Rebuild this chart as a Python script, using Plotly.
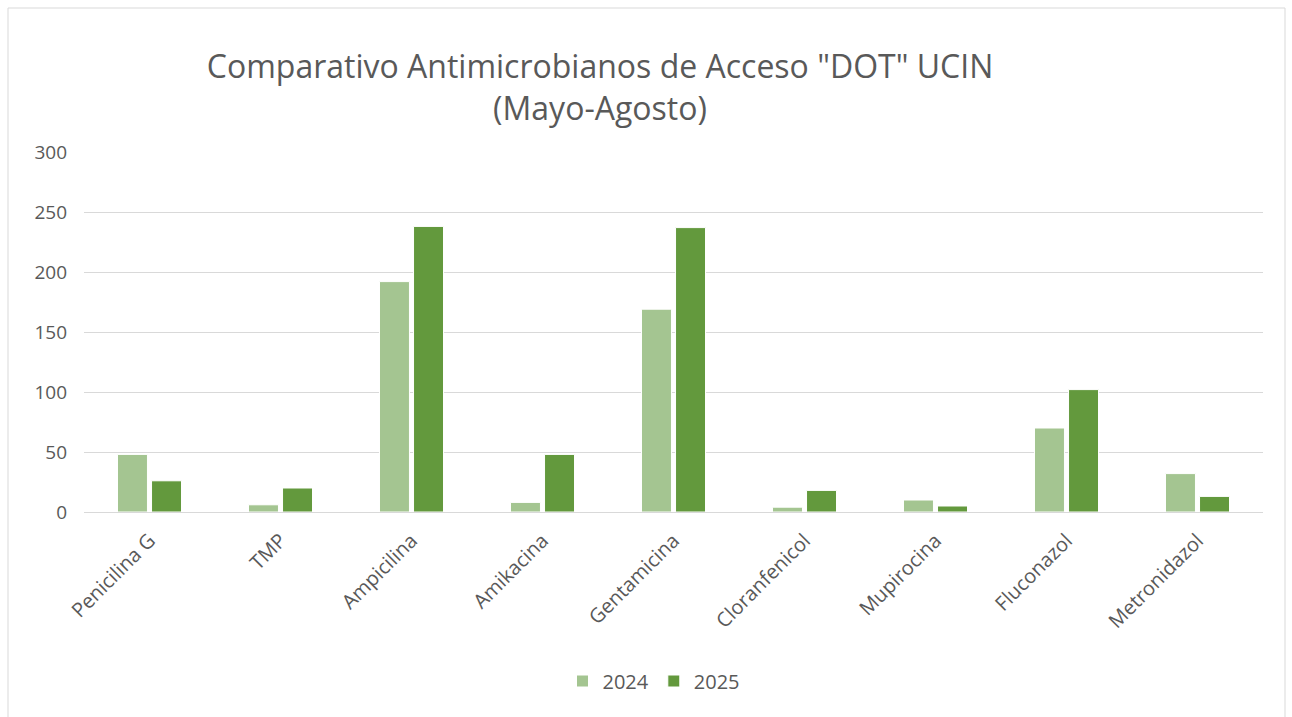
import plotly.graph_objects as go

categories = ["Penicilina G", "TMP", "Ampicilina", "Amikacina", "Gentamicina",
              "Cloranfenicol", "Mupirocina", "Fluconazol", "Metronidazol"]
values_2024 = [48, 6, 192, 8, 169, 4, 10, 70, 32]
values_2025 = [26, 20, 238, 48, 237, 18, 5, 102, 13]
y_ticks = [0, 50, 100, 150, 200, 250, 300]

W, H = 1292, 717
L, R, T, B = 84, 29, 152, 205
pw, ph = W - L - R, H - T - B

fig = go.Figure()
fig.add_trace(go.Bar(name="2024", x=categories, y=values_2024,
                     marker=dict(color="#A4C591", line=dict(color="white", width=1))))
fig.add_trace(go.Bar(name="2025", x=categories, y=values_2025,
                     marker=dict(color="#63993D", line=dict(color="white", width=1))))

font_family = "Open Sans, Liberation Sans, sans-serif"
fig.update_layout(
    width=W, height=H,
    margin=dict(l=L, r=R, t=T, b=B),
    paper_bgcolor="white", plot_bgcolor="white",
    barmode="group", bargap=0.48, bargroupgap=0.12,
    title=dict(text='Comparativo Antimicrobianos de Acceso "DOT" UCIN<br>(Mayo-Agosto)',
               x=600 / W, xanchor="center", y=1 - 78 / H, yanchor="middle",
               font=dict(family=font_family, size=32, color="#595959")),
    font=dict(family=font_family, size=19, color="#595959"),
    xaxis=dict(tickangle=-45, showgrid=False, showline=False, ticks="",
               ticklabelstandoff=12,
               tickfont=dict(size=20, color="#595959")),
    yaxis=dict(range=[0, 300], tickvals=y_ticks, showgrid=True, gridcolor="#D9D9D9",
               gridwidth=1, zeroline=True, zerolinecolor="#D9D9D9", zerolinewidth=1,
               ticks="", ticklen=0, ticklabelstandoff=16,
               tickfont=dict(size=19, color="#595959")),
    legend=dict(orientation="h", x=0.5 + (654 - (L + pw / 2)) / pw, xanchor="center",
                y=-(681 - (H - B)) / ph, yanchor="middle",
                font=dict(size=20, color="#595959"), itemwidth=30),
    shapes=[dict(type="rect", xref="paper", yref="paper",
                 x0=(8 - L) / pw, x1=(1285 - L) / pw,
                 y0=-(720 - (H - B)) / ph, y1=(H - B - 8) / ph,
                 line=dict(color="#D9D9D9", width=1), fillcolor="rgba(0,0,0,0)",
                 layer="below")],
)

fig.write_html("out.html", config={"displayModeBar": False},
               post_script="document.body.style.margin='0';")
